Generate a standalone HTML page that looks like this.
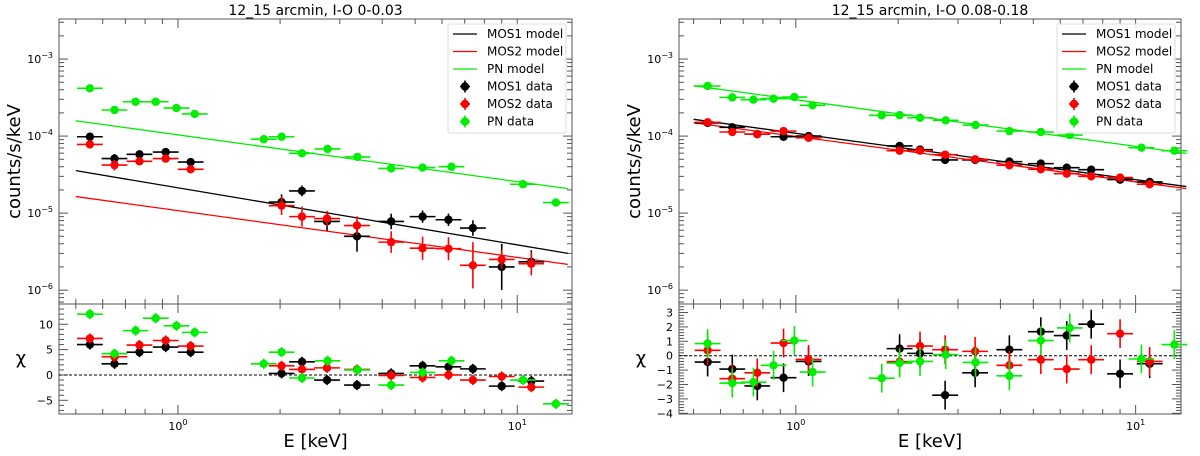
<!DOCTYPE html>
<html><head><meta charset="utf-8"><style>
body{margin:0;background:#fff}
svg{display:block;font-family:"DejaVu Sans","Liberation Sans",sans-serif}
</style></head><body>
<svg id="chart" width="1200" height="456" viewBox="0 0 1200 456" xmlns="http://www.w3.org/2000/svg"></svg>
<script>
// Shared energies (keV)
const ePN = [0.55,0.65,0.75,0.86,0.99,1.12,1.79,2.02,2.32,2.76,3.38,4.25,5.26,6.4,10.4,13.0];
const eMOS = [0.55,0.65,0.77,0.92,1.09,2.02,2.32,2.75,3.37,4.25,5.26,6.27,7.4,9.0,11.0];
const modelE = [0.5,14.1];
// Left panel: 12_15 arcmin, I-O 0-0.03
const L_mos1 = [9.8e-5,5.1e-5,5.8e-5,6.2e-5,4.6e-5,1.39e-5,1.94e-5,7.8e-6,5.0e-6,7.8e-6,9.0e-6,8.2e-6,6.4e-6,2.0e-6,2.33e-6];
const L_mos2 = [7.8e-5,4.2e-5,4.7e-5,5.1e-5,3.7e-5,1.25e-5,9.0e-6,8.5e-6,6.9e-6,4.2e-6,3.5e-6,3.45e-6,2.1e-6,2.5e-6,2.2e-6];
const L_pn = [4.17e-4,2.18e-4,2.79e-4,2.79e-4,2.31e-4,1.94e-4,9.1e-5,9.8e-5,5.97e-5,6.8e-5,5.36e-5,3.8e-5,3.9e-5,4.0e-5,2.37e-5,1.37e-5];
const L_mos1_err = [0.03,0.06,0.04,0.03,0.04,0.1,0.07,0.12,0.2,0.1,0.08,0.08,0.1,0.3,0.15];
const L_mos2_err = [0.03,0.07,0.04,0.04,0.05,0.12,0.13,0.1,0.12,0.14,0.15,0.15,0.3,0.12,0.15];
const L_mod1 = [3.56e-5,3.0e-6];
const L_mod2 = [1.64e-5,2.16e-6];
const L_modpn = [1.58e-4,2.08e-5];
const L_chi1 = [6.0,2.2,4.5,5.5,4.5,0.3,2.6,-1.0,-2.0,0.3,1.8,1.6,1.2,-2.2,-1.2];
const L_chi2 = [7.2,3.6,5.9,6.8,5.7,1.8,1.1,1.4,1.1,-0.1,-0.5,0.0,-1.0,-0.3,-2.4];
const L_chipn = [12.0,4.2,8.75,11.2,9.7,8.4,2.2,4.5,-0.6,2.8,1.0,-2.0,0.5,2.8,-1.0,-5.7];
// Right panel: 12_15 arcmin, I-O 0.08-0.18
const R_mos1 = [1.48e-4,1.30e-4,1.06e-4,9.8e-5,1.0e-4,7.45e-5,6.67e-5,4.9e-5,4.9e-5,4.66e-5,4.39e-5,3.89e-5,3.66e-5,2.72e-5,2.54e-5];
const R_mos2 = [1.51e-4,1.13e-4,1.06e-4,1.16e-4,9.5e-5,6.47e-5,6.47e-5,5.74e-5,5.0e-5,4.18e-5,3.71e-5,3.25e-5,3.0e-5,2.89e-5,2.37e-5];
const R_pn = [4.47e-4,3.18e-4,2.97e-4,3.06e-4,3.21e-4,2.51e-4,1.86e-4,1.87e-4,1.73e-4,1.60e-4,1.39e-4,1.16e-4,1.13e-4,1.03e-4,7.07e-5,6.47e-5];
const R_err = [0.02,0.02,0.02,0.02,0.02,0.02,0.03,0.03,0.03,0.03,0.03,0.03,0.03,0.03,0.03];
const R_mod1 = [1.65e-4,2.21e-5];
const R_mod2 = [1.49e-4,2.08e-5];
const R_modpn = [4.51e-4,5.97e-5];
const R_chi1 = [-0.44,-0.93,-2.1,-1.53,-0.4,0.49,0.16,-2.74,-1.19,0.42,1.67,1.4,2.19,-1.26,-0.56];
const R_chi2 = [0.37,-1.6,-1.19,0.88,-0.26,-0.42,0.67,0.42,0.3,-0.67,-0.28,-0.93,-0.28,1.53,-0.4];
const R_chipn = [0.84,-1.9,-1.84,-0.67,1.05,-1.14,-1.56,-0.51,-0.4,0.07,-0.47,-1.4,1.05,1.93,-0.23,0.77];

const NS="http://www.w3.org/2000/svg";
const svg=document.getElementById('chart');
function mk(tag,attrs,parent){const e=document.createElementNS(NS,tag);for(const k in attrs)e.setAttribute(k,attrs[k]);(parent||svg).appendChild(e);return e;}
const GREEN='#00ee00', RED='#ff0000', BLACK='#000000';
const R=4.2;

function panel(p){
  const g=mk('g',{});
  
  
  const x0=p.x0,x1=p.x1,T=19,M=304,B=414;
  const lxmin=Math.log10(p.emin),lxmax=Math.log10(p.emax);
  const X=e=>x0+(Math.log10(e)-lxmin)/(lxmax-lxmin)*(x1-x0);
  const lymin=-6.18,lymax=-2.48;
  const Y=v=>T+(lymax-Math.log10(v))/(lymax-lymin)*(M-T);
  const C=c=>M+(p.cmax-c)/(p.cmax-p.cmin)*(B-M);
  const t=mk('text',{x:(x0+x1)/2,y:15,'text-anchor':'middle','font-size':14},g);t.textContent=p.title;
  
  const f1=mk('rect',{x:x0,y:T,width:x1-x0,height:M-T,fill:'none',stroke:'#555','stroke-width':1},g);
  
  const f2=mk('rect',{x:x0,y:M,width:x1-x0,height:B-M,fill:'none',stroke:'#555','stroke-width':1},g);
  
  for(let d=-1;d<=1;d++)for(let m=1;m<10;m++){
    const e=m*Math.pow(10,d); if(e<p.emin||e>p.emax)continue;
    const xx=X(e), L=m==1?9:5;
    [[T,1],[M,-1],[M,1],[B,-1]].forEach(([yy,s])=>mk('line',{x1:xx,x2:xx,y1:yy,y2:yy+s*L,stroke:'#555','stroke-width':1},g));
    if(m==1){const tl=mk('text',{x:xx,y:B+16,'text-anchor':'middle','font-size':11},g);
      tl.innerHTML='10<tspan dy="-5" font-size="8">'+d+'</tspan>';
      }
  }
  for(let d=-7;d<=-2;d++)for(let m=1;m<10;m++){
    const v=m*Math.pow(10,d),lv=Math.log10(v); if(lv<lymin||lv>lymax)continue;
    const yy=Y(v),L=m==1?9:5;
    mk('line',{x1:x0,x2:x0+L,y1:yy,y2:yy,stroke:'#555'},g);mk('line',{x1:x1,x2:x1-L,y1:yy,y2:yy,stroke:'#555'},g);
    if(m==1){const tl=mk('text',{x:x0-6,y:yy+4,'text-anchor':'end','font-size':11},g);
      tl.innerHTML='10<tspan dy="-5" font-size="8">−'+(-d)+'</tspan>';
      }
  }
  for(let c=Math.ceil(p.cmin/p.cminor)*p.cminor;c<=p.cmax;c+=p.cminor){
    const cc=Math.round(c*1000)/1000,yy=C(cc),maj=Math.abs(cc/p.cmajor-Math.round(cc/p.cmajor))<1e-6,L=maj?9:5;
    mk('line',{x1:x0,x2:x0+L,y1:yy,y2:yy,stroke:'#555'},g);mk('line',{x1:x1,x2:x1-L,y1:yy,y2:yy,stroke:'#555'},g);
    if(maj){const tl=mk('text',{x:x0-6,y:yy+4,'text-anchor':'end','font-size':11},g);tl.textContent=(cc<0?'−'+(-cc):cc);
      }
  }
  const yl=mk('text',{x:0,y:0,transform:`translate(${x0-39},${(T+M)/2}) rotate(-90)`,'text-anchor':'middle','font-size':18},g);yl.textContent='counts/s/keV';
  
  const cl=mk('text',{x:x0-38,y:(M+B)/2+5,'text-anchor':'middle','font-size':18},g);cl.textContent='χ';
  
  const xl=mk('text',{x:(x0+x1)/2,y:447,'text-anchor':'middle','font-size':18},g);xl.textContent='E [keV]';
  
  const z=mk('line',{x1:x0,x2:x1,y1:C(0),y2:C(0),stroke:'#000','stroke-dasharray':'3,2','stroke-width':1},g);
  
  [[p.mod1,BLACK,'mos1-model-line'],[p.mod2,RED,'mos2-model-line'],[p.modpn,GREEN,'pn-model-line']].forEach(([v,col,nm])=>{
    const l=mk('line',{x1:X(modelE[0]),y1:Y(v[0]),x2:X(modelE[1]),y2:Y(v[1]),stroke:col,'stroke-width':1.3},g);
    
  });
  function pts(E,V,err,col,nm,chi){
    E.forEach((e,i)=>{
      const xa=X(e*Math.pow(10,-0.038)),xb=X(e*Math.pow(10,0.038));
      const xx=X(e),yy=Y(V[i]),er=err?err[i]:0.02;
      const gg=mk('g',{},g);
      
      mk('line',{x1:xa,x2:xb,y1:yy,y2:yy,stroke:col,'stroke-width':1.6},gg);
      mk('line',{x1:xx,x2:xx,y1:Y(V[i]*Math.pow(10,er)),y2:Y(V[i]*Math.pow(10,-er)),stroke:col,'stroke-width':1.6},gg);
      mk('circle',{cx:xx,cy:yy,r:R,fill:col},gg);
      const cy=C(chi[i]);
      const g2=mk('g',{},g);
      
      mk('line',{x1:xa,x2:xb,y1:cy,y2:cy,stroke:col,'stroke-width':1.6},g2);
      mk('line',{x1:xx,x2:xx,y1:C(chi[i]+1),y2:C(chi[i]-1),stroke:col,'stroke-width':1.6},g2);
      mk('circle',{cx:xx,cy:cy,r:R,fill:col},g2);
    });
  }
  pts(eMOS,p.mos1,p.err1,BLACK,'mos1',p.chi1);
  pts(eMOS,p.mos2,p.err2,RED,'mos2',p.chi2);
  pts(ePN,p.pn,null,GREEN,'pn',p.chipn);
  const lg=mk('g',{},g);
  const lx=x1-124;
  mk('rect',{x:lx,y:24,width:118,height:109,fill:'#fff','fill-opacity':0.85,stroke:'#ddd',rx:2},lg);
  const items=[['MOS1 model',BLACK,0],['MOS2 model',RED,0],['PN model',GREEN,0],['MOS1 data',BLACK,1],['MOS2 data',RED,1],['PN data',GREEN,1]];
  items.forEach(([lab,col,isd],i)=>{
    const yy=34+i*17.5;
    const it=mk('g',{},lg);
    if(!isd)mk('line',{x1:lx+5,x2:lx+29,y1:yy,y2:yy,stroke:col,'stroke-width':1.3},it);
    else{mk('line',{x1:lx+12,x2:lx+22,y1:yy,y2:yy,stroke:col,'stroke-width':1.6},it);
      mk('line',{x1:lx+17,x2:lx+17,y1:yy-6,y2:yy+6,stroke:col,'stroke-width':1.6},it);
      mk('circle',{cx:lx+17,cy:yy,r:R,fill:col},it);}
    const tx=mk('text',{x:lx+39,y:yy+4,'font-size':12},it);tx.textContent=lab;
  });
}
panel({name:'left-panel',title:'12_15 arcmin, I-O 0-0.03',x0:59,x1:572,emin:0.446,emax:14.5,cmin:-7.7,cmax:14.0,cmajor:5,cminor:1,
  mos1:L_mos1,mos2:L_mos2,pn:L_pn,err1:L_mos1_err,err2:L_mos2_err,mod1:L_mod1,mod2:L_mod2,modpn:L_modpn,chi1:L_chi1,chi2:L_chi2,chipn:L_chipn});
panel({name:'right-panel',title:'12_15 arcmin, I-O 0.08-0.18',x0:679,x1:1181,emin:0.453,emax:13.6,cmin:-4.05,cmax:3.59,cmajor:1,cminor:0.2,
  mos1:R_mos1,mos2:R_mos2,pn:R_pn,err1:R_err,err2:R_err,mod1:R_mod1,mod2:R_mod2,modpn:R_modpn,chi1:R_chi1,chi2:R_chi2,chipn:R_chipn});
</script>
</body></html>
